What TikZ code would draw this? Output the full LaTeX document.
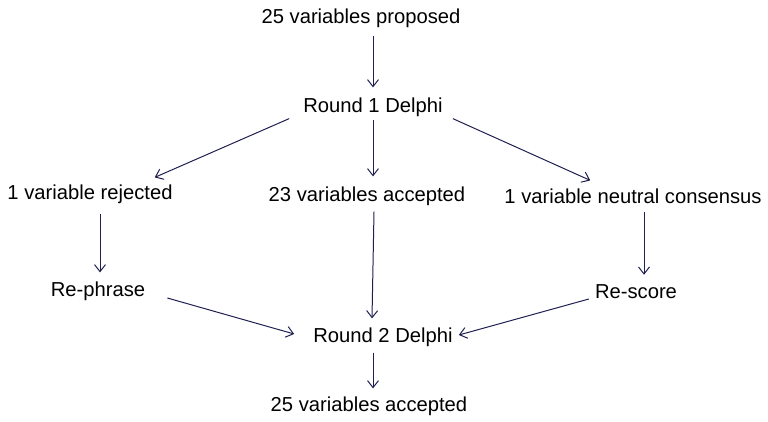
\documentclass[tikz,border=0pt]{standalone}
\usepackage{fontspec}
\setmainfont{Liberation Sans}
\usetikzlibrary{arrows.meta,calc}
\definecolor{navy}{HTML}{1F2050}
\begin{document}
\begin{tikzpicture}[x=1pt,y=-1pt,
  lbl/.style={font=\fontsize{20.2}{24}\selectfont, inner sep=2pt, text=black},
  arr/.style={draw=navy, line width=1pt, -{Straight Barb[length=7pt,width=11pt]}}]
\useasboundingbox (0,0) rectangle (768,421);
\node[lbl] (p)  at (361,18)  {25 variables proposed};
\node[lbl] (r1) at (373,107) {Round 1 Delphi};
\node[lbl] (rj) at (90,194)  {1 variable rejected};
\node[lbl] (ac) at (367,196) {23 variables accepted};
\node[lbl] (ne) at (633,196) {1 variable neutral consensus};
\node[lbl] (rp) at (98,291)  {Re-phrase};
\node[lbl] (r2) at (383,337) {Round 2 Delphi};
\node[lbl] (rs) at (636,292) {Re-score};
\node[lbl] (fa) at (369,406) {25 variables accepted};
\draw[arr] ($(p.south)+(12,6)$) -- ($(r1.north)+(0,-8)$);
\draw[arr] ($(r1.south west)+(-12,0)$) -- ($(rj.north east)+(-20,-5)$);
\draw[arr] ($(r1.south)+(0,1)$) -- ($(ac.north)+(6,-8)$);
\draw[arr] ($(r1.south east)+(8,0)$) -- ($(ne.north west)+(88,-6)$);
\draw[arr] (rj.south -| rp.north) ++(2,8) -- ($(rp.north)+(2,-7)$);
\draw[arr] ($(ac.south)+(7,4)$) -- ($(r2.north)+(-11,-7)$);
\draw[arr] (ne.south -| rs.north) ++(8,6) -- ($(rs.north)+(8,-8)$);
\draw[arr] ($(rp.east)+(20,7)$) -- ($(r2.west)+(-17,-3)$);
\draw[arr] ($(rs.west)+(-4,7)$) -- ($(r2.east)+(4,-2)$);
\draw[arr] ($(r2.south)+(-10,4)$) -- ($(fa.north)+(4,-6)$);
\end{tikzpicture}
\end{document}
